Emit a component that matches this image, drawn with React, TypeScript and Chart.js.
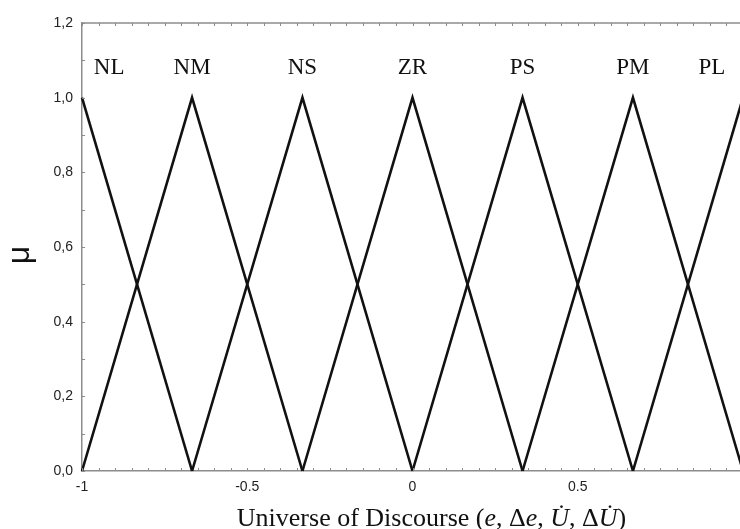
import React, { useEffect, useRef } from "react";
import { Chart, registerables } from "chart.js";

Chart.register(...registerables);

// ---- data ----
const setNames = ["NL", "NM", "NS", "ZR", "PS", "PM", "PL"];
const nlX = [-1, -0.667];
const nlY = [1, 0];
const nmX = [-1, -0.667, -0.333];
const nmY = [0, 1, 0];
const nsX = [-0.667, -0.333, 0];
const nsY = [0, 1, 0];
const zrX = [-0.333, 0, 0.333];
const zrY = [0, 1, 0];
const psX = [0, 0.333, 0.667];
const psY = [0, 1, 0];
const pmX = [0.333, 0.667, 1];
const pmY = [0, 1, 0];
const plX = [0.667, 1];
const plY = [0, 1];
const seriesX = [nlX, nmX, nsX, zrX, psX, pmX, plX];
const seriesY = [nlY, nmY, nsY, zrY, psY, pmY, plY];

// label anchor positions (data coordinates)
const labelX = [-0.918, -0.667, -0.333, 0, 0.333, 0.667, 0.906];
const labelY = [1.08, 1.08, 1.08, 1.08, 1.08, 1.08, 1.08];

const xTickVals = [-1, -0.5, 0, 0.5];
const xTickLabels = ["-1", "-0.5", "0", "0.5"];
const yTickVals = [0, 0.2, 0.4, 0.6, 0.8, 1.0, 1.2];
const yTickLabels = ["0,0", "0,2", "0,4", "0,6", "0,8", "1,0", "1,2"];

const yAxisTitle = "\u03bc";
const titleSegments: [string, boolean][] = [
  ["Universe of Discourse (", false],
  ["e", true],
  [", \u0394", false],
  ["e", true],
  [", ", false],
  ["U\u0307", true],
  [", \u0394", false],
  ["U\u0307", true],
  [")", false],
];

const AXIS_COLOR = "#8c8c8c";

const decorPlugin = {
  id: "decor",
  afterDraw(chart: any) {
    const ctx = chart.ctx;
    const { left, right, top, bottom } = chart.chartArea;
    const xs = chart.scales.x;
    const ys = chart.scales.y;
    ctx.save();
    // top border
    ctx.strokeStyle = AXIS_COLOR;
    ctx.lineWidth = 1.5;
    ctx.beginPath();
    ctx.moveTo(left, top);
    ctx.lineTo(right + 5, top);
    ctx.stroke();
    // minor ticks
    ctx.lineWidth = 1;
    ctx.beginPath();
    for (let i = 0; i <= 40; i++) {
      const v = -1 + i * 0.05;
      const px = Math.round(xs.getPixelForValue(v)) + 0.5;
      ctx.moveTo(px, bottom);
      ctx.lineTo(px, bottom - 3);
      ctx.moveTo(px, top);
      ctx.lineTo(px, top + 3);
    }
    for (let i = 0; i <= 12; i++) {
      const v = i * 0.1;
      const py = Math.round(ys.getPixelForValue(v)) + 0.5;
      ctx.moveTo(left, py);
      ctx.lineTo(left + 3, py);
    }
    ctx.stroke();

    // set labels
    ctx.fillStyle = "#111";
    ctx.font = '23px "Liberation Serif"';
    ctx.textAlign = "center";
    ctx.textBaseline = "middle";
    setNames.forEach((n, i) => {
      ctx.fillText(n, xs.getPixelForValue(labelX[i]), ys.getPixelForValue(labelY[i]));
    });

    // y axis title
    ctx.save();
    ctx.translate(29, (top + bottom) / 2 + 8);
    ctx.rotate(-Math.PI / 2);
    ctx.font = '32px "Liberation Sans"';
    ctx.textAlign = "center";
    ctx.textBaseline = "alphabetic";
    ctx.fillStyle = "#111";
    ctx.fillText(yAxisTitle, 0, 0);
    ctx.restore();

    // x axis title (mixed italic)
    const normalFont = '26px "Liberation Serif"';
    const italicFont = 'italic 26px "Liberation Serif"';
    let total = 0;
    const widths = titleSegments.map(([t, it]) => {
      ctx.font = it ? italicFont : normalFont;
      const w = ctx.measureText(t).width;
      total += w;
      return w;
    });
    let x = (left + right) / 2 + 19 - total / 2;
    const baseY = bottom + 55;
    ctx.textAlign = "left";
    ctx.textBaseline = "alphabetic";
    titleSegments.forEach(([t, it], i) => {
      ctx.font = it ? italicFont : normalFont;
      ctx.fillText(t, x, baseY);
      x += widths[i];
    });
    ctx.restore();
  },
};

export default function App() {
  const ref = useRef<HTMLCanvasElement | null>(null);
  useEffect(() => {
    if (!ref.current) return;
    const datasets = seriesX.map((xs, i) => ({
      label: setNames[i],
      data: xs.map((xv, j) => ({ x: xv, y: seriesY[i][j] })),
      showLine: true,
      borderColor: "#111",
      backgroundColor: "#111",
      borderWidth: 2.6,
      pointRadius: 0,
      fill: false,
      tension: 0,
      clip: false as any,
    }));
    const chart = new Chart(ref.current, {
      type: "scatter",
      data: { datasets },
      options: {
        responsive: false,
        animation: false,
        devicePixelRatio: 1,
        layout: { padding: { left: 0, top: 23, right: 3, bottom: 28 } },
        plugins: { legend: { display: false }, tooltip: { enabled: false } },
        scales: {
          x: {
            type: "linear",
            min: -1,
            max: 1,
            afterBuildTicks: (s: any) => {
              s.ticks = xTickVals.map((v) => ({ value: v }));
            },
            afterFit: (s: any) => {
              s.height = 30;
            },
            ticks: {
              autoSkip: false,
              maxRotation: 0,
              padding: 8,
              color: "#222",
              font: { family: "Liberation Sans", size: 14 },
              callback: (v: any) => {
                const i = xTickVals.findIndex((t) => Math.abs(t - v) < 1e-6);
                return i >= 0 ? xTickLabels[i] : "";
              },
            },
            grid: { display: true, drawOnChartArea: false, drawTicks: false, color: "rgba(0,0,0,0)" },
            border: { display: true, color: AXIS_COLOR, width: 1.5 },
          },
          y: {
            type: "linear",
            min: 0,
            max: 1.2,
            afterBuildTicks: (s: any) => {
              s.ticks = yTickVals.map((v) => ({ value: v }));
            },
            afterFit: (s: any) => {
              s.width = 82;
            },
            ticks: {
              autoSkip: false,
              padding: 9,
              color: "#222",
              font: { family: "Liberation Sans", size: 14 },
              callback: (v: any) => {
                const i = yTickVals.findIndex((t) => Math.abs(t - v) < 1e-6);
                return i >= 0 ? yTickLabels[i] : "";
              },
            },
            grid: { display: true, drawOnChartArea: false, drawTicks: false, color: "rgba(0,0,0,0)" },
            border: { display: true, color: AXIS_COLOR, width: 1.5 },
          },
        },
      } as any,
      plugins: [decorPlugin],
    });
    return () => chart.destroy();
  }, []);
  return (
    <div
      style={{
        position: "fixed",
        left: 0,
        top: 0,
        width: 740,
        height: 529,
        overflow: "hidden",
        background: "#fff",
      }}
    >
      <canvas ref={ref} width={746} height={529} style={{ display: "block", width: 746, height: 529 }} />
    </div>
  );
}
